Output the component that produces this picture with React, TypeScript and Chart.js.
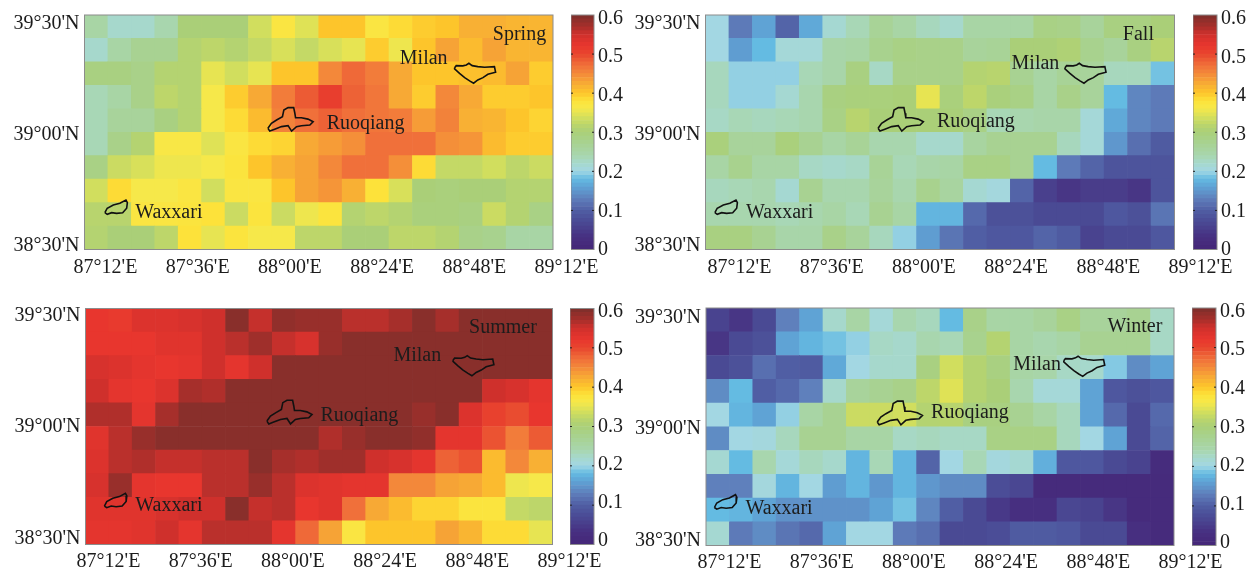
import React, { useEffect, useRef } from "react";
import { Chart, registerables } from "chart.js";

Chart.register(...registerables);

const FONT = "'Liberation Serif', serif";
const INK = "#1c1c1c";

// Cell centres (degrees); rows run top (north) to bottom (south).
const lons = [87.15, 87.25, 87.35, 87.45, 87.55, 87.65, 87.75, 87.85, 87.95, 88.05, 88.15, 88.25, 88.35, 88.45, 88.55, 88.65, 88.75, 88.85, 88.95, 89.05];
const lats = [39.45, 39.35, 39.25, 39.15, 39.05, 38.95, 38.85, 38.75, 38.65, 38.55];

const xTickValues = [87.2, 87.6, 88.0, 88.4, 88.8, 89.2];
const xTickLabels = ["87°12'E", "87°36'E", "88°00'E", "88°24'E", "88°48'E", "89°12'E"];
const yTickValues = [38.5, 39.0, 39.5];
const yTickLabels = ["38°30'N", "39°00'N", "39°30'N"];
const barTicks = [0, 0.1, 0.2, 0.3, 0.4, 0.5, 0.6];

const spring = [
  [0.25, 0.22, 0.22, 0.24, 0.3, 0.3, 0.3, 0.335, 0.37, 0.345, 0.4, 0.4, 0.37, 0.385, 0.395, 0.4, 0.42, 0.42, 0.415, 0.415],
  [0.22, 0.25, 0.27, 0.27, 0.31, 0.32, 0.31, 0.325, 0.34, 0.325, 0.34, 0.35, 0.395, 0.355, 0.4, 0.43, 0.41, 0.43, 0.415, 0.415],
  [0.29, 0.29, 0.28, 0.31, 0.31, 0.35, 0.335, 0.35, 0.4, 0.4, 0.45, 0.475, 0.46, 0.425, 0.4, 0.4, 0.405, 0.41, 0.43, 0.395],
  [0.235, 0.25, 0.28, 0.32, 0.31, 0.36, 0.395, 0.425, 0.46, 0.485, 0.51, 0.48, 0.465, 0.425, 0.395, 0.45, 0.425, 0.395, 0.395, 0.4],
  [0.235, 0.26, 0.26, 0.29, 0.31, 0.36, 0.385, 0.41, 0.455, 0.47, 0.48, 0.47, 0.465, 0.46, 0.435, 0.455, 0.42, 0.415, 0.4, 0.39],
  [0.235, 0.28, 0.31, 0.365, 0.365, 0.345, 0.37, 0.385, 0.39, 0.425, 0.435, 0.445, 0.47, 0.47, 0.47, 0.445, 0.44, 0.41, 0.395, 0.395],
  [0.285, 0.33, 0.34, 0.355, 0.355, 0.36, 0.375, 0.4, 0.42, 0.43, 0.45, 0.47, 0.47, 0.445, 0.385, 0.325, 0.325, 0.335, 0.32, 0.33],
  [0.335, 0.385, 0.36, 0.36, 0.37, 0.335, 0.37, 0.37, 0.4, 0.43, 0.44, 0.42, 0.38, 0.34, 0.3, 0.295, 0.3, 0.3, 0.31, 0.31],
  [0.315, 0.315, 0.37, 0.37, 0.375, 0.38, 0.33, 0.375, 0.33, 0.355, 0.375, 0.31, 0.32, 0.31, 0.295, 0.295, 0.29, 0.33, 0.31, 0.285],
  [0.31, 0.3, 0.3, 0.32, 0.38, 0.35, 0.375, 0.36, 0.36, 0.32, 0.32, 0.3, 0.3, 0.32, 0.32, 0.31, 0.28, 0.275, 0.25, 0.25],
];

const fall = [
  [0.2, 0.125, 0.16, 0.105, 0.165, 0.215, 0.235, 0.265, 0.25, 0.23, 0.22, 0.25, 0.25, 0.25, 0.285, 0.28, 0.26, 0.29, 0.29, 0.3],
  [0.2, 0.155, 0.18, 0.21, 0.21, 0.245, 0.25, 0.275, 0.285, 0.28, 0.28, 0.26, 0.265, 0.3, 0.3, 0.305, 0.275, 0.26, 0.29, 0.315],
  [0.23, 0.195, 0.195, 0.195, 0.235, 0.245, 0.29, 0.225, 0.28, 0.28, 0.28, 0.31, 0.315, 0.27, 0.25, 0.265, 0.26, 0.23, 0.23, 0.185],
  [0.23, 0.195, 0.195, 0.215, 0.24, 0.29, 0.295, 0.295, 0.3, 0.35, 0.295, 0.32, 0.295, 0.285, 0.25, 0.28, 0.26, 0.18, 0.135, 0.125],
  [0.225, 0.235, 0.23, 0.235, 0.24, 0.285, 0.315, 0.3, 0.3, 0.3, 0.3, 0.285, 0.235, 0.24, 0.245, 0.245, 0.21, 0.165, 0.135, 0.125],
  [0.295, 0.26, 0.26, 0.295, 0.27, 0.25, 0.265, 0.24, 0.24, 0.22, 0.22, 0.255, 0.27, 0.27, 0.27, 0.23, 0.21, 0.15, 0.115, 0.095],
  [0.25, 0.275, 0.25, 0.25, 0.225, 0.22, 0.225, 0.265, 0.235, 0.245, 0.25, 0.285, 0.285, 0.27, 0.18, 0.125, 0.105, 0.085, 0.085, 0.085],
  [0.23, 0.235, 0.24, 0.215, 0.27, 0.24, 0.24, 0.26, 0.24, 0.275, 0.255, 0.215, 0.205, 0.105, 0.055, 0.04, 0.05, 0.05, 0.04, 0.085],
  [0.24, 0.24, 0.24, 0.235, 0.24, 0.25, 0.235, 0.27, 0.25, 0.175, 0.175, 0.11, 0.08, 0.08, 0.07, 0.07, 0.07, 0.09, 0.08, 0.12],
  [0.29, 0.29, 0.27, 0.245, 0.245, 0.28, 0.26, 0.23, 0.195, 0.155, 0.12, 0.1, 0.09, 0.09, 0.105, 0.095, 0.06, 0.07, 0.07, 0.09],
];

const summer = [
  [0.52, 0.515, 0.535, 0.535, 0.54, 0.55, 0.59, 0.555, 0.585, 0.58, 0.58, 0.56, 0.56, 0.57, 0.59, 0.57, 0.59, 0.59, 0.59, 0.59],
  [0.52, 0.52, 0.52, 0.53, 0.53, 0.55, 0.56, 0.575, 0.555, 0.54, 0.58, 0.59, 0.59, 0.59, 0.59, 0.59, 0.59, 0.59, 0.59, 0.59],
  [0.54, 0.535, 0.525, 0.52, 0.525, 0.55, 0.525, 0.55, 0.59, 0.59, 0.59, 0.59, 0.59, 0.59, 0.59, 0.59, 0.59, 0.59, 0.59, 0.59],
  [0.55, 0.525, 0.52, 0.535, 0.57, 0.565, 0.59, 0.59, 0.59, 0.59, 0.59, 0.59, 0.59, 0.59, 0.59, 0.59, 0.59, 0.55, 0.54, 0.525],
  [0.565, 0.565, 0.525, 0.57, 0.59, 0.59, 0.59, 0.59, 0.59, 0.59, 0.59, 0.59, 0.59, 0.59, 0.58, 0.59, 0.535, 0.505, 0.495, 0.52],
  [0.53, 0.56, 0.58, 0.59, 0.59, 0.59, 0.59, 0.59, 0.59, 0.59, 0.565, 0.58, 0.59, 0.59, 0.585, 0.525, 0.525, 0.49, 0.46, 0.485],
  [0.535, 0.56, 0.565, 0.555, 0.555, 0.56, 0.56, 0.59, 0.57, 0.565, 0.575, 0.575, 0.55, 0.54, 0.525, 0.48, 0.49, 0.41, 0.45, 0.42],
  [0.54, 0.58, 0.525, 0.52, 0.52, 0.56, 0.56, 0.58, 0.56, 0.535, 0.53, 0.525, 0.525, 0.45, 0.45, 0.43, 0.425, 0.41, 0.355, 0.36],
  [0.53, 0.53, 0.53, 0.54, 0.55, 0.55, 0.59, 0.555, 0.56, 0.52, 0.53, 0.47, 0.425, 0.41, 0.39, 0.39, 0.375, 0.375, 0.325, 0.32],
  [0.525, 0.525, 0.53, 0.55, 0.525, 0.56, 0.56, 0.56, 0.525, 0.475, 0.43, 0.37, 0.4, 0.4, 0.4, 0.43, 0.415, 0.385, 0.385, 0.35],
];

const winter = [
  [0.06, 0.04, 0.07, 0.13, 0.16, 0.22, 0.25, 0.21, 0.24, 0.23, 0.18, 0.28, 0.25, 0.25, 0.26, 0.285, 0.26, 0.26, 0.27, 0.225],
  [0.04, 0.07, 0.08, 0.16, 0.175, 0.185, 0.195, 0.225, 0.22, 0.24, 0.235, 0.275, 0.31, 0.25, 0.24, 0.25, 0.27, 0.27, 0.27, 0.225],
  [0.07, 0.08, 0.115, 0.1, 0.095, 0.165, 0.2, 0.22, 0.22, 0.29, 0.335, 0.31, 0.29, 0.25, 0.245, 0.225, 0.22, 0.19, 0.14, 0.16],
  [0.14, 0.18, 0.1, 0.11, 0.13, 0.22, 0.26, 0.27, 0.28, 0.32, 0.345, 0.31, 0.3, 0.24, 0.21, 0.21, 0.16, 0.09, 0.08, 0.09],
  [0.2, 0.175, 0.16, 0.195, 0.25, 0.27, 0.33, 0.33, 0.335, 0.31, 0.315, 0.29, 0.29, 0.27, 0.25, 0.23, 0.16, 0.11, 0.07, 0.11],
  [0.14, 0.2, 0.205, 0.23, 0.27, 0.27, 0.25, 0.25, 0.225, 0.23, 0.225, 0.225, 0.285, 0.285, 0.285, 0.23, 0.2, 0.16, 0.07, 0.105],
  [0.215, 0.18, 0.24, 0.21, 0.23, 0.22, 0.175, 0.235, 0.175, 0.105, 0.2, 0.235, 0.205, 0.215, 0.17, 0.09, 0.09, 0.07, 0.06, 0.02],
  [0.13, 0.13, 0.205, 0.175, 0.2, 0.155, 0.175, 0.15, 0.175, 0.15, 0.14, 0.14, 0.075, 0.065, 0.015, 0.015, 0.015, 0.015, 0.015, 0.015],
  [0.18, 0.175, 0.16, 0.145, 0.145, 0.145, 0.145, 0.16, 0.185, 0.135, 0.1, 0.07, 0.045, 0.03, 0.03, 0.065, 0.06, 0.04, 0.015, 0.015],
  [0.215, 0.125, 0.14, 0.12, 0.11, 0.16, 0.2, 0.2, 0.125, 0.115, 0.07, 0.07, 0.075, 0.095, 0.095, 0.09, 0.07, 0.07, 0.03, 0.015],
];

const ruoqiangOutline = [[87.883, 39.017], [87.898, 39.038], [87.92, 39.052], [87.945, 39.066], [87.951, 39.095], [87.969, 39.105], [87.993, 39.105], [87.998, 39.081], [88.001, 39.062], [88.026, 39.062], [88.054, 39.056], [88.076, 39.045], [88.062, 39.031], [88.026, 39.028], [88.005, 39.024], [87.984, 39.005], [87.969, 39.028], [87.941, 39.024], [87.912, 39.013], [87.891, 39.005], [87.883, 39.017]];
const milanOutline = [[88.68, 39.275], [88.687, 39.284], [88.715, 39.283], [88.73, 39.287], [88.741, 39.294], [88.755, 39.284], [88.779, 39.28], [88.808, 39.277], [88.85, 39.28], [88.855, 39.256], [88.822, 39.247], [88.801, 39.233], [88.779, 39.223], [88.761, 39.209], [88.744, 39.219], [88.723, 39.233], [88.701, 39.251], [88.68, 39.27], [88.68, 39.275]];
const waxxariOutline = [[87.187, 38.657], [87.197, 38.676], [87.223, 38.69], [87.251, 38.697], [87.277, 38.711], [87.283, 38.7], [87.28, 38.676], [87.263, 38.657], [87.237, 38.654], [87.216, 38.657], [87.197, 38.65], [87.187, 38.657]];

const colormapStops: [number, string][] = [
  [0, "#442777"], [0.03, "#472f80"], [0.07, "#4a4a94"], [0.1, "#505ea4"], [0.13, "#5f80bc"],
  [0.16, "#5fa3d5"], [0.18, "#64bbe2"], [0.2, "#a3d7e3"], [0.22, "#a6d8cc"], [0.24, "#a8d6ae"],
  [0.27, "#a8d292"], [0.3, "#aacf78"], [0.32, "#bdd66a"], [0.34, "#d8e05a"], [0.36, "#f6e84a"],
  [0.38, "#fde23a"], [0.4, "#fdc52b"], [0.42, "#f8b034"], [0.45, "#f3883a"], [0.47, "#f0703a"],
  [0.5, "#e8452e"], [0.52, "#e8362e"], [0.55, "#cf302c"], [0.57, "#a62f2b"], [0.6, "#7b2f2b"],
];

function rgb(hex: string) {
  return [1, 3, 5].map((i) => parseInt(hex.slice(i, i + 2), 16));
}
function colorAt(v: number) {
  const s = colormapStops;
  for (let i = 1; i < s.length; i++) {
    if (v <= s[i][0]) {
      const t = (v - s[i - 1][0]) / (s[i][0] - s[i - 1][0]);
      const a = rgb(s[i - 1][1]);
      const b = rgb(s[i][1]);
      return `rgb(${a.map((c, k) => Math.round(c + (b[k] - c) * t)).join(",")})`;
    }
  }
  return s[s.length - 1][1];
}

const colorLevels = Array.from({ length: 60 }, (_, i) => i / 100);

type Label = { text: string; lon: number; lat: number };
type Panel = {
  values: number[][];
  cx: number; cy: number; // canvas corner
  L: number; R: number; T: number; B: number; // plot box
  barL: number; barR: number; barT: number; barB: number;
  barLabelTop: number; barLabelBottom: number;
  xLabelStart: number; yLabelTop: number; yLabelBottom: number; xPad: number;
  shiftLon: number; shiftLat: number;
  labels: Label[];
};

const panels: Panel[] = [
  {
    values: spring, cx: 0, cy: 0, L: 84.5, R: 553, T: 15, B: 249.5,
    barL: 571, barR: 594, barT: 15, barB: 249.5, barLabelTop: 18.5, barLabelBottom: 250,
    xLabelStart: 105.5, yLabelTop: 23.5, yLabelBottom: 245.5, xPad: 6, shiftLon: 0, shiftLat: 0,
    labels: [
      { text: "Spring", lon: 88.957, lat: 39.423 }, { text: "Milan", lon: 88.548, lat: 39.321 },
      { text: "Ruoqiang", lon: 88.3, lat: 39.043 }, { text: "Waxxari", lon: 87.46, lat: 38.662 },
    ],
  },
  {
    values: fall, cx: 627, cy: 0, L: 705.5, R: 1174.5, T: 15, B: 249.5,
    barL: 1193, barR: 1217, barT: 15, barB: 249.5, barLabelTop: 19, barLabelBottom: 250,
    xLabelStart: 739.5, yLabelTop: 23.5, yLabelBottom: 245.5, xPad: 6, shiftLon: -0.047, shiftLat: 0,
    labels: [
      { text: "Fall", lon: 88.946, lat: 39.423 }, { text: "Milan", lon: 88.507, lat: 39.3 },
      { text: "Ruoqiang", lon: 88.253, lat: 39.051 }, { text: "Waxxari", lon: 87.416, lat: 38.662 },
    ],
  },
  {
    values: summer, cx: 0, cy: 286, L: 85.5, R: 552.5, T: 308.5, B: 544.5,
    barL: 570, barR: 594, barT: 308.5, barB: 544.5, barLabelTop: 311.5, barLabelBottom: 541,
    xLabelStart: 108.5, yLabelTop: 315.5, yLabelBottom: 538.5, xPad: 5, shiftLon: -0.006, shiftLat: 0.006,
    labels: [
      { text: "Summer", lon: 88.888, lat: 39.423 }, { text: "Milan", lon: 88.521, lat: 39.308 },
      { text: "Ruoqiang", lon: 88.273, lat: 39.051 }, { text: "Waxxari", lon: 87.457, lat: 38.671 },
    ],
  },
  {
    values: winter, cx: 627, cy: 286, L: 706, R: 1174, T: 308, B: 545.5,
    barL: 1192, barR: 1216, barT: 308, barB: 545.5, barLabelTop: 311.5, barLabelBottom: 543,
    xLabelStart: 729.5, yLabelTop: 317.5, yLabelBottom: 540.5, xPad: 5, shiftLon: -0.051, shiftLat: 0.003,
    labels: [
      { text: "Winter", lon: 88.933, lat: 39.427 }, { text: "Milan", lon: 88.515, lat: 39.269 },
      { text: "Ruoqiang", lon: 88.228, lat: 39.064 }, { text: "Waxxari", lon: 87.412, lat: 38.662 },
    ],
  },
];

const CANVAS_W = 627;
const CANVAS_H = 286;
const BAR_AXIS_W = 40;
const X_LABEL_PX_PER_DEG = 230.5;
const TEXT_DROP = 1.5;

function outlineDataset(points: number[][], p: Panel) {
  return {
    type: "line" as const,
    data: points.map(([x, y]) => ({ x: x + p.shiftLon, y: y + p.shiftLat })),
    borderColor: "#111",
    borderWidth: 1.6,
    pointRadius: 0,
    tension: 0,
    fill: false,
    order: 0,
    xAxisID: "x",
    yAxisID: "y",
  };
}

function makeMap(canvas: HTMLCanvasElement, p: Panel) {
  const cells: { x: number; y: [number, number] }[] = [];
  const colors: string[] = [];
  p.values.forEach((row, r) =>
    row.forEach((v, c) => {
      cells.push({ x: lons[c], y: [lats[r] - 0.05, lats[r] + 0.05] });
      colors.push(colorAt(v));
    })
  );
  const xMin = 87.2 - (p.xLabelStart - p.L) / X_LABEL_PX_PER_DEG;
  const xMax = xMin + (p.R - p.L) / X_LABEL_PX_PER_DEG;
  const yPerDeg = p.yLabelBottom - p.yLabelTop;
  const yMax = 39.5 + (p.yLabelTop - p.T) / yPerDeg;
  const yMin = yMax - (p.B - p.T) / yPerDeg;

  const overlay = {
    id: "overlay",
    afterDatasetsDraw(chart: any) {
      const { ctx, chartArea: a, scales } = chart;
      ctx.save();
      ctx.strokeStyle = "#8c8c8c";
      ctx.lineWidth = 1;
      ctx.strokeRect(a.left, a.top, a.right - a.left, a.bottom - a.top);
      ctx.fillStyle = INK;
      ctx.font = `20px ${FONT}`;
      ctx.textAlign = "center";
      ctx.textBaseline = "middle";
      p.labels.forEach((l) => {
        ctx.fillText(l.text, scales.x.getPixelForValue(l.lon), scales.y.getPixelForValue(l.lat) + TEXT_DROP);
      });
      ctx.restore();
    },
  };

  return new Chart(canvas, {
    type: "bar",
    data: {
      datasets: [
        outlineDataset(ruoqiangOutline, p),
        outlineDataset(milanOutline, p),
        outlineDataset(waxxariOutline, p),
        {
          type: "bar",
          data: cells,
          backgroundColor: colors,
          barPercentage: 1,
          categoryPercentage: 1,
          grouped: false,
          order: 1,
          xAxisID: "x",
          yAxisID: "y",
        },
      ] as any,
    },
    options: {
      animation: false,
      responsive: false,
      devicePixelRatio: 1,
      layout: {
        padding: { left: 0, top: p.T - p.cy, right: CANVAS_W - (p.R - p.cx), bottom: 0 },
      },
      plugins: { legend: { display: false }, tooltip: { enabled: false } },
      scales: {
        x: { type: "linear", display: false, offset: false, min: 87.1, max: 89.1 },
        y: { type: "linear", display: false, min: 38.5, max: 39.5 },
        xTicks: {
          type: "linear",
          position: "bottom",
          offset: false,
          min: xMin,
          max: xMax,
          grid: { display: false, drawTicks: false },
          border: { display: false },
          afterBuildTicks(axis: any) {
            axis.ticks = xTickValues.map((value) => ({ value }));
          },
          afterFit(axis: any) {
            axis.height = p.cy + CANVAS_H - p.B;
            axis.paddingLeft = 0;
            axis.paddingRight = 0;
          },
          ticks: {
            autoSkip: false,
            maxRotation: 0,
            minRotation: 0,
            padding: p.xPad,
            color: INK,
            font: { family: FONT, size: 20 },
            callback: (_: any, i: number) => xTickLabels[i],
          },
        },
        yTicks: {
          type: "linear",
          position: "left",
          min: yMin,
          max: yMax,
          grid: { display: false, drawTicks: false },
          border: { display: false },
          afterBuildTicks(axis: any) {
            axis.ticks = yTickValues.map((value) => ({ value }));
          },
          afterFit(axis: any) {
            axis.width = p.L - p.cx;
            axis.paddingTop = 0;
            axis.paddingBottom = 0;
          },
          ticks: {
            autoSkip: false,
            padding: 5,
            color: INK,
            font: { family: FONT, size: 20 },
            callback: (_: any, i: number) => yTickLabels[i],
          },
        },
      } as any,
    },
    plugins: [overlay],
  } as any);
}

function makeBar(canvas: HTMLCanvasElement, p: Panel) {
  const frame = {
    id: "barFrame",
    afterDatasetsDraw(chart: any) {
      const { ctx, chartArea: a, scales } = chart;
      ctx.save();
      ctx.strokeStyle = "#8c8c8c";
      ctx.lineWidth = 1;
      ctx.strokeRect(a.left, a.top, a.right - a.left, a.bottom - a.top);
      ctx.strokeStyle = "#222";
      barTicks.forEach((value) => {
        if (value === 0 || value === 0.6) return;
        const y = scales.y.getPixelForValue(value);
        ctx.beginPath();
        ctx.moveTo(a.left, y);
        ctx.lineTo(a.left + 2, y);
        ctx.moveTo(a.right - 2, y);
        ctx.lineTo(a.right, y);
        ctx.stroke();
      });
      ctx.restore();
    },
  };
  const perUnit = (p.barLabelBottom - p.barLabelTop) / 0.6;
  const labelMax = 0.6 + (p.barLabelTop - p.barT) / perUnit;
  const labelMin = labelMax - (p.barB - p.barT) / perUnit;
  return new Chart(canvas, {
    type: "bar",
    data: {
      labels: [""],
      datasets: colorLevels.map((lo, i) => ({
        data: [[lo, i === colorLevels.length - 1 ? 0.6 : colorLevels[i + 1]]],
        backgroundColor: colorAt(lo + 0.005),
        barPercentage: 1,
        categoryPercentage: 1,
        grouped: false,
        yAxisID: "y",
      })),
    } as any,
    options: {
      animation: false,
      responsive: false,
      devicePixelRatio: 1,
      layout: {
        padding: { left: 0, top: p.barT - p.cy, right: 0, bottom: p.cy + CANVAS_H - p.barB },
      },
      plugins: { legend: { display: false }, tooltip: { enabled: false } },
      scales: {
        x: { display: false },
        y: { type: "linear", display: false, min: 0, max: 0.6 },
        yLabels: {
          type: "linear",
          position: "right",
          min: labelMin,
          max: labelMax,
          grid: { display: false, drawTicks: false },
          border: { display: false },
          afterBuildTicks(axis: any) {
            axis.ticks = barTicks.map((value) => ({ value }));
          },
          afterFit(axis: any) {
            axis.width = BAR_AXIS_W;
            axis.paddingTop = 0;
            axis.paddingBottom = 0;
          },
          ticks: {
            autoSkip: false,
            padding: 4,
            color: INK,
            font: { family: FONT, size: 20 },
            callback: (v: number) => (v === 0 ? "0" : v.toFixed(1)),
          },
        },
      } as any,
    },
    plugins: [frame],
  } as any);
}

export default function App() {
  const mapRefs = useRef<(HTMLCanvasElement | null)[]>([]);
  const barRefs = useRef<(HTMLCanvasElement | null)[]>([]);

  useEffect(() => {
    const charts: Chart[] = [];
    panels.forEach((p, i) => {
      charts.push(makeMap(mapRefs.current[i]!, p));
      charts.push(makeBar(barRefs.current[i]!, p));
    });
    return () => charts.forEach((c) => c.destroy());
  }, []);

  return (
    <div style={{ position: "fixed", left: 0, top: 0, width: 1254, height: 572, background: "#fff", overflow: "hidden" }}>
      {panels.map((p, i) => (
        <React.Fragment key={i}>
          <canvas
            ref={(el) => { mapRefs.current[i] = el; }}
            width={CANVAS_W}
            height={CANVAS_H}
            style={{ position: "absolute", left: p.cx, top: p.cy, width: CANVAS_W, height: CANVAS_H }}
          />
          <canvas
            ref={(el) => { barRefs.current[i] = el; }}
            width={p.barR - p.barL + BAR_AXIS_W}
            height={CANVAS_H}
            style={{ position: "absolute", left: p.barL, top: p.cy, width: p.barR - p.barL + BAR_AXIS_W, height: CANVAS_H }}
          />
        </React.Fragment>
      ))}
    </div>
  );
}
